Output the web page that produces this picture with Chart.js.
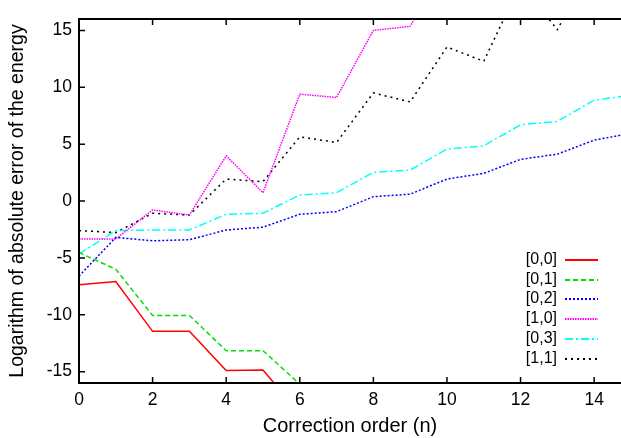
<!DOCTYPE html>
<html>
<head>
<meta charset="utf-8">
<script src="https://cdn.jsdelivr.net/npm/chart.js@4"></script>
<style>
  html, body { margin: 0; padding: 0; background: #fff; overflow: hidden; }
  #wrap { width: 621px; height: 438px; }
</style>
</head>
<body>
<div id="wrap"><canvas id="c" width="621" height="438"></canvas></div>
<script>
// correction order n = 0..15
const orders = [0, 1, 2, 3, 4, 5, 6, 7, 8, 9, 10, 11, 12, 13, 14, 15];
const seriesNames = ['[0,0]', '[0,1]', '[0,2]', '[1,0]', '[0,3]', '[1,1]'];
const err00 = [-7.37, -7.08, -11.46, -11.44, -14.9, -14.85, -18.7, -18.6, -22];
const err01 = [-4.53, -6.0, -10.06, -10.06, -13.16, -13.16, -16.1, -16.1, -19];
const err02 = [-6.6, -3.2, -3.5, -3.4, -2.55, -2.3, -1.17, -0.94, 0.38, 0.6, 1.93, 2.43, 3.66, 4.12, 5.35, 5.95];
const err10 = [-3.33, -3.33, -0.79, -1.23, 3.97, 0.73, 9.39, 9.1, 15.0, 15.35, 21.0, 20.8];
const err03 = [-4.65, -2.6, -2.55, -2.55, -1.17, -1.08, 0.53, 0.73, 2.52, 2.72, 4.56, 4.85, 6.7, 7.0, 8.86, 9.3];
const err11 = [-2.6, -2.78, -1.08, -1.23, 1.93, 1.7, 5.64, 5.15, 9.5, 8.71, 13.54, 12.28, 19.1, 15.06, 21.0];
const xTicks = [0, 2, 4, 6, 8, 10, 12, 14];
const yTicks = [-15, -10, -5, 0, 5, 10, 15];

const colors = ['#ff0000', '#00e000', '#0000ff', '#ff00ff', '#00ffff', '#000000'];
const dashes = [[], [5, 3], [2, 2], [1.5, 1], [8, 3, 2, 3], [2, 4]];
const allValues = [err00, err01, err02, err10, err03, err11];

const FONT = '"Liberation Sans", Arial, sans-serif';

const datasets = allValues.map((vals, i) => ({
  label: seriesNames[i],
  data: vals.map((v, k) => ({ x: orders[k], y: v })),
  borderColor: colors[i],
  borderDash: dashes[i],
  borderWidth: 1.5,
  pointRadius: 0,
  tension: 0,
  fill: false
}));

// gnuplot-like frame with inward ticks and a legend in the lower right
const framePlugin = {
  id: 'frame',
  afterDatasetsDraw(chart) {
    const { ctx, chartArea: a, scales } = chart;
    ctx.save();
    ctx.strokeStyle = '#000';
    ctx.lineWidth = 2;
    ctx.beginPath();
    ctx.moveTo(a.right + 2, a.top);
    ctx.lineTo(a.left, a.top);
    ctx.lineTo(a.left, a.bottom);
    ctx.lineTo(a.right + 2, a.bottom);
    ctx.stroke();
    ctx.lineWidth = 1.5;
    ctx.beginPath();
    xTicks.forEach(t => {
      const px = scales.x.getPixelForValue(t);
      ctx.moveTo(px, a.bottom); ctx.lineTo(px, a.bottom - 6);
      ctx.moveTo(px, a.top); ctx.lineTo(px, a.top + 6);
    });
    yTicks.forEach(t => {
      const py = scales.y.getPixelForValue(t);
      ctx.moveTo(a.left, py); ctx.lineTo(a.left + 6, py);
    });
    ctx.stroke();

    // legend
    ctx.font = '16px ' + FONT;
    ctx.textAlign = 'right';
    ctx.textBaseline = 'middle';
    chart.data.datasets.forEach((ds, i) => {
      const y = Math.round(260 + i * 19.7);
      ctx.fillStyle = '#000';
      ctx.fillText(ds.label, 557, y);
      ctx.strokeStyle = ds.borderColor;
      ctx.lineWidth = 2;
      ctx.setLineDash(ds.borderDash);
      ctx.beginPath();
      ctx.moveTo(565, y);
      ctx.lineTo(598, y);
      ctx.stroke();
    });
    ctx.setLineDash([]);
    ctx.restore();
  }
};

new Chart(document.getElementById('c').getContext('2d'), {
  type: 'line',
  data: { datasets },
  options: {
    responsive: false,
    animation: false,
    layout: { padding: { top: 19, right: 0, left: 0, bottom: 0 } },
    scales: {
      x: {
        type: 'linear',
        min: 0,
        max: 14.73,
        afterBuildTicks(s) { s.ticks = xTicks.map(v => ({ value: v })); },
        afterFit(s) { s.height = 55; },
        grid: { display: false, drawTicks: false },
        border: { display: false },
        ticks: { color: '#000', padding: 7, font: { family: FONT, size: 17.5 }, maxRotation: 0 },
        title: {
          display: true,
          text: 'Correction order (n)',
          color: '#000',
          font: { family: FONT, size: 20 },
          padding: { top: 2, bottom: 0 }
        }
      },
      y: {
        min: -16,
        max: 16,
        afterBuildTicks(s) { s.ticks = yTicks.map(v => ({ value: v })); },
        afterFit(s) { s.width = 79; },
        grid: { display: false, drawTicks: false },
        border: { display: false },
        ticks: { color: '#000', padding: 7, font: { family: FONT, size: 17.5 } },
        title: {
          display: true,
          text: 'Logarithm of absolute error of the energy',
          color: '#000',
          font: { family: FONT, size: 19.5 },
          padding: { top: 6, bottom: 0 }
        }
      }
    },
    plugins: {
      legend: { display: false },
      tooltip: { enabled: false }
    }
  },
  plugins: [framePlugin]
});
</script>
</body>
</html>
